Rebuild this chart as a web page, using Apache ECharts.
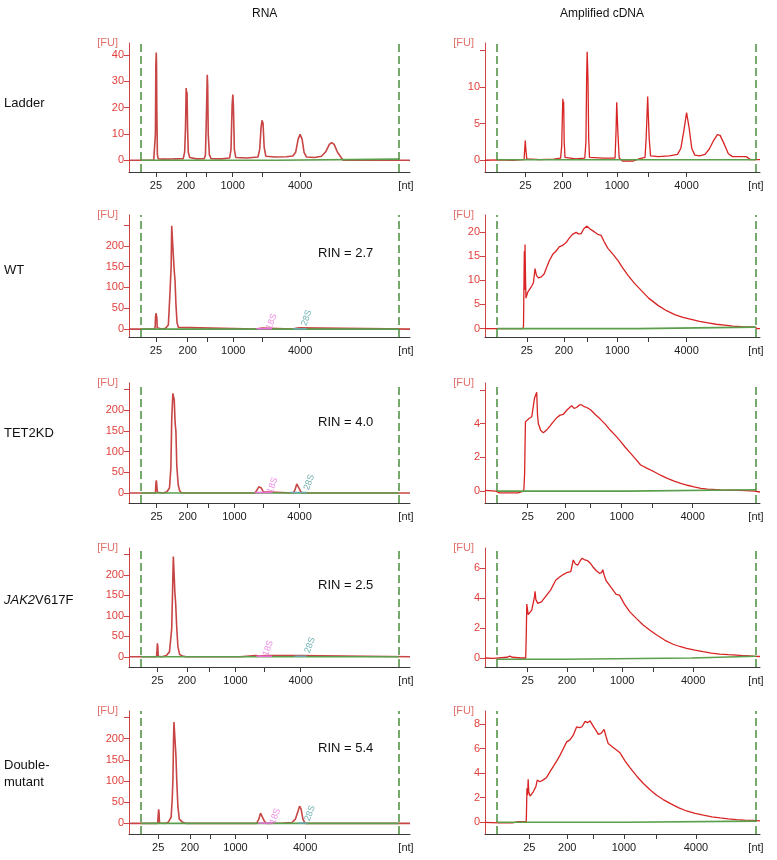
<!DOCTYPE html>
<html>
<head>
<meta charset="utf-8">
<script src="https://cdn.jsdelivr.net/npm/echarts@6/dist/echarts.min.js"></script>
<style>
  html, body { margin: 0; padding: 0; background: #fff; }
  #chart { width: 777px; height: 860px; }
</style>
</head>
<body>
<div id="chart"></div>
<script>
// x is migration position (0-100 across each panel), y is fluorescence [FU]
const sampleNames = ["Ladder", "WT", "TET2KD", "JAK2V617F", "Double-mutant"];
const rinValues = [null, "2.7", "4.0", "2.5", "5.4"];
const xTickLabels = ["25", "200", "", "1000", "", "4000"];

// ---- RNA traces ----
const ladderRna = [
  [0, 0], [8.8, 0], [9.2, 0.3], [9.4, 10], [9.55, 36], [9.7, 41], [9.8, 36], [9.9, 19.5], [10.1, 2], [10.4, 0.5],
  [12, 0.4], [16, 0.5], [19.3, 0.6], [19.8, 3], [20.1, 12], [20.35, 27.5], [20.5, 25], [20.65, 26], [20.85, 12], [21.1, 3], [21.6, 1],
  [24, 0.5], [26.8, 0.6], [27.2, 2], [27.5, 15], [27.85, 32.5], [28.0, 28.5], [28.2, 10], [28.6, 2], [29.2, 0.6],
  [33, 0.5], [35.8, 0.8], [36.3, 4], [36.7, 21], [36.95, 25], [37.15, 21], [37.5, 4], [38.0, 1],
  [42, 0.8], [45.9, 1.2], [46.5, 4], [47.0, 12.5], [47.35, 15.2], [47.7, 14], [48.1, 5], [48.7, 1.5],
  [52, 1.2], [56, 1.3], [58.3, 1.6], [59.3, 3], [60.2, 8], [60.9, 9.8], [61.6, 8], [62.3, 3], [63.2, 1.2],
  [66, 1], [68.5, 1.5], [70, 3.2], [71.3, 6], [72.1, 6.7], [73.0, 6], [74.2, 3], [75.5, 1], [76.2, 0], [100, 0]
];
const wtRna = [
  [0, 0], [9.1, 0], [9.3, 5], [9.45, 30], [9.6, 38], [9.75, 36], [9.9, 28], [10.05, 3], [10.3, 0],
  [11.6, 0], [13, 2], [14, 10], [14.59, 88], [15.0, 150], [15.2, 248], [15.45, 246], [15.77, 178], [16.1, 140],
  [16.37, 118], [16.7, 60], [17.1, 15], [17.6, 4], [18.1, 0],
  [45, 0], [45.6, 2.5], [47.5, 2.5], [48, 0], [58, 0], [58.5, 3], [60.5, 3], [61, 0], [100, 0]
];
const tet2Rna = [
  [0, 0], [9.4, 0], [9.6, 25], [9.75, 30.7], [9.95, 28], [10.1, 2], [10.3, 0],
  [12.2, 0], [13.5, 3], [14.4, 12], [14.9, 60], [15.2, 176], [15.45, 215], [15.6, 240], [16.1, 224], [16.4, 170],
  [16.7, 148], [17.0, 67], [17.5, 20], [18.0, 6], [18.7, 0],
  [44.8, 0], [45.6, 8], [46.2, 15], [46.6, 16], [47.1, 12], [47.8, 3], [48.4, 0],
  [58.5, 0], [59.2, 10], [59.7, 22], [60.0, 24], [60.4, 20], [61.0, 5], [61.5, 0], [100, 0]
];
const jakRna = [
  [0, 0], [9.8, 0], [10.0, 20], [10.1, 33], [10.25, 25], [10.4, 1], [10.6, 0],
  [11.8, 0], [13.3, 3], [14.4, 12], [15.2, 69], [15.5, 160], [15.77, 245], [16.1, 196], [16.3, 160], [16.6, 131],
  [17.0, 70], [17.4, 25], [18.0, 6], [19, 2], [20.3, 0],
  [39.5, 0], [39.7, 3], [45, 3], [46.5, 2], [48.5, 3], [60.6, 3], [60.9, 0], [100, 0]
];
const dblRna = [
  [0, 0], [10.2, 0], [10.4, 20], [10.55, 33], [10.7, 25], [10.85, 1], [11.0, 0],
  [12.8, 0], [14, 3], [15, 15], [15.4, 60], [15.65, 108], [15.85, 200], [16.0, 239], [16.4, 235], [16.7, 160],
  [17.0, 100], [17.4, 40], [17.9, 10], [19, 3], [20.3, 0],
  [37.0, 0], [37.4, 3], [37.8, 0], [43.8, 0], [44.2, 3], [44.6, 0],
  [45.4, 0], [46.2, 10], [46.8, 24], [47.1, 27], [47.5, 22], [48.2, 5], [48.9, 0],
  [55, 1], [58, 2], [59.2, 10], [60.2, 30], [60.7, 40.7], [61.2, 35], [61.9, 10], [62.7, 0], [100, 0]
];

// ---- amplified cDNA traces ----
const ladderCdna = [
  [0, 0], [5, 0.05], [10, 0], [14.2, 0.1], [14.45, 1.5], [14.65, 2.7], [14.85, 1.5], [15.2, 0.2],
  [20, 0.1], [25, 0.15], [27.5, 0.3], [27.9, 2], [28.1, 5.5], [28.3, 8.4], [28.45, 7.5], [28.6, 8], [28.8, 2.5], [29.1, 0.4],
  [33, 0.2], [36.3, 0.3], [36.7, 2.5], [36.95, 11], [37.15, 14.8], [37.3, 13], [37.45, 11], [37.7, 3], [38.0, 0.4],
  [43, 0.3], [47.3, 0.3], [47.65, 4], [47.9, 7.9], [48.15, 7.8], [48.35, 3.5], [48.8, 0.3],
  [50, -0.1], [54, -0.1], [56, 0.2], [58.2, 0.4], [58.6, 3], [58.9, 6], [59.15, 8.7], [59.4, 8.5], [59.7, 3], [60.2, 0.6],
  [63, 0.5], [67, 0.6], [70, 0.8], [71.2, 1.6], [72.3, 4], [73.3, 6.5], [74.2, 4.5], [75.2, 1.6], [76.3, 0.7], [78, 0.6],
  [80, 0.8], [81.5, 1.5], [83, 2.6], [84.5, 3.5], [85.5, 3.4], [87, 2.2], [88.5, 0.9], [90, 0.5], [95, 0.5], [96.5, 0.1], [100, 0.1]
];
const wtCdna = [
  [0, 0], [13.8, 0], [14.0, 0.5], [14.3, 16], [14.45, 8], [14.55, 17.4], [14.75, 10], [14.9, 6.3], [15.5, 7.5],
  [16.2, 8.1], [17.0, 8.8], [17.6, 9.5], [18.2, 12.4], [18.7, 11], [19.4, 10.5], [20.5, 10.7], [21.5, 11.3],
  [22.5, 12.8], [23.5, 14.2], [24.2, 14.6], [24.8, 15.5], [25.8, 16], [27, 16.9], [28.2, 17.2], [29.5, 17.8], [30.5, 18.6],
  [31.8, 19.5], [33.1, 19.9], [34.0, 19.6], [34.9, 19.6], [36.0, 20.7], [37.1, 21.2], [38.2, 20.6], [39.8, 20.0],
  [41, 19.5], [42.2, 19.3], [43.3, 18], [44.7, 16.6], [46.5, 15.4], [48.3, 14.1], [50, 12.6], [52, 11],
  [54.3, 9.4], [56.8, 7.9], [59.5, 6.3], [62.9, 4.8], [66, 3.7], [69, 2.9], [72, 2.3], [75, 1.9], [78, 1.5],
  [81.1, 1.2], [84, 0.9], [87.2, 0.7], [90, 0.5], [93.3, 0.4], [96, 0.35], [98.1, 0.3], [99, 0], [100, 0]
];
const tet2Cdna = [
  [0, 0.05], [4, 0], [5.2, -0.1], [12, -0.1], [14.1, 0], [14.4, 1], [14.7, 4.1], [15.3, 4.2], [16, 4.3], [17, 4.4],
  [17.6, 4.5], [18.0, 5.5], [18.5, 5.5], [18.8, 5.85], [19.1, 4.5], [19.4, 4.0], [20.2, 3.6], [21.2, 3.45],
  [22.3, 3.6], [23.6, 3.85], [24.8, 4.1], [26.1, 4.35], [27.3, 4.5], [28.5, 4.55], [29.8, 4.8], [31.5, 5.05],
  [32.4, 4.9], [33.3, 4.95], [34.3, 5.1], [35.2, 5.1], [36.1, 5.0], [37, 4.95], [38.5, 4.8], [40, 4.55],
  [42, 4.25], [43.8, 3.95], [45.6, 3.6], [47.4, 3.3], [49.3, 2.95], [51, 2.6], [52.9, 2.25], [54.8, 1.9],
  [56.6, 1.55], [59, 1.35], [61.5, 1.15], [64, 0.93], [66.3, 0.76], [68.8, 0.6], [71.2, 0.46], [73.6, 0.35],
  [76, 0.25], [78.5, 0.17], [80.9, 0.12], [85.8, 0.07], [91.9, 0.05], [95, 0.03], [98, 0], [100, -0.05]
];
const jakCdna = [
  [0, 0], [3, -0.02], [8, 0.05], [9, 0.12], [10, 0.05], [13, 0], [14.8, 0], [15.0, 1.5], [15.2, 3.6], [15.4, 3.55],
  [15.7, 2.9], [16.1, 2.8], [17, 3.2], [17.6, 3.3], [18.0, 4.1], [18.2, 4.45], [18.5, 3.9], [19.2, 3.65],
  [20.5, 3.75], [22, 4.1], [23.9, 4.55], [25.7, 5.2], [27, 5.4], [28.2, 5.55], [29.7, 5.7], [31.2, 5.77],
  [32.1, 6.55], [32.8, 6.3], [33.7, 6.2], [34.5, 6.45], [35.3, 6.67], [36.3, 6.55], [37.3, 6.5], [38.2, 6.35],
  [39.2, 6.1], [40.4, 5.85], [41.6, 5.66], [42.4, 5.7], [42.8, 5.9], [43.4, 5.5], [44.1, 5.15], [45.9, 4.7],
  [47.7, 4.25], [48.9, 4.2], [50.7, 3.6], [52.6, 3.1], [55, 2.65], [57.5, 2.2], [60, 1.85], [62.3, 1.55],
  [65.3, 1.2], [68.4, 0.92], [70.8, 0.77], [73.3, 0.65], [76.3, 0.52], [79.3, 0.42], [82.3, 0.33], [85.4, 0.26],
  [88.5, 0.22], [91.5, 0.19], [94.5, 0.15], [97.6, 0.12], [100, 0.1]
];
const dblCdna = [
  [0, 0], [5, -0.05], [10, -0.05], [12, 0.05], [15.0, 0.05], [15.1, 1], [15.25, 2.76], [15.5, 2.2], [15.7, 3.5],
  [15.9, 2.5], [16.4, 2.13], [17.6, 2.5], [18.5, 2.9], [19.0, 3.43], [20, 3.3], [21.2, 3.45], [22.4, 3.65],
  [23.6, 4.1], [24.9, 4.57], [26.1, 5.0], [27.3, 5.46], [28.5, 6.0], [29.7, 6.54], [30.9, 6.7], [32.1, 7.08],
  [33.3, 7.75], [34.3, 7.7], [35.2, 7.75], [36.4, 8.2], [37.3, 8.1], [38.2, 8.25], [39.4, 7.8], [40.3, 7.5],
  [41.2, 7.15], [42.3, 7.25], [43.3, 7.55], [44.0, 7.0], [44.8, 6.4], [46.5, 6.1], [49.1, 5.65], [50.9, 5.0],
  [52.7, 4.45], [55.2, 3.75], [57.6, 3.16], [60, 2.65], [62.4, 2.2], [64.8, 1.85], [67.3, 1.54], [70.3, 1.2],
  [73.3, 0.92], [76.4, 0.72], [79.4, 0.58], [82.5, 0.45], [85.5, 0.36], [88.5, 0.28], [91.5, 0.22],
  [94.5, 0.18], [97.6, 0.15], [100, 0.12]
];

// green baselines (x, FU)
const rnaBaselines = [
  [[4.3, 0], [52, 0], [52, 0.4], [96.1, 0.4]],
  [[4.3, 0], [96.1, 0]],
  [[4.3, 0], [96.1, 0]],
  [[4.3, 0], [96.1, 0]],
  [[4.3, 0], [96.1, 0]]
];
const cdnaBaselines = [
  [[4.4, 0.08], [98.5, 0.08]],
  [[4.4, 0], [55.7, 0], [55.7, 0.3], [98.5, 0.3]],
  [[4.4, 0], [51.5, 0], [51.5, 0.08], [98.5, 0.08]],
  [[4.4, -0.08], [28.5, -0.08], [28.5, 0], [75.2, 0], [75.2, 0.12], [98.5, 0.12]],
  [[4.4, 0], [51.5, 0], [51.5, 0.1], [98.5, 0.1]]
];
const rnaMarkers = [4.3, 96.1];
const cdnaMarkers = [4.4, 98.5];

// x tick positions per panel (25, 200, 500, 1000, 2000, 4000 nt)
const rnaXTicks = [
  [9.6, 20.3, 27.6, 36.9, 47.3, 60.9],
  [9.6, 20.9, 27.8, 37.1, 47.5, 60.9],
  [9.8, 20.9, 28.3, 37.5, 47.8, 60.7],
  [10.1, 20.6, 28.7, 37.9, 48.2, 61.1],
  [10.4, 21.7, 28.9, 37.9, 49.3, 62.7]
];
const cdnaXTicks = [
  [14.7, 28.2, 37.2, 48, 59.2, 73.3],
  [15.2, 28.7, 37.2, 48.1, 59.2, 73.3],
  [15.5, 29.3, 38.4, 49.7, 60.8, 75.5],
  [15.5, 29.8, 39.2, 49.9, 61.2, 75.7],
  [16.1, 29.9, 39.2, 50.5, 62.2, 76.7]
];

// y ticks / labels / ranges
const rnaYTicks = [[0, 10, 20, 30, 40], [0, 50, 100, 150, 200, 250], [0, 50, 100, 150, 200, 250], [0, 50, 100, 150, 200, 250], [0, 50, 100, 150, 200, 250]];
const rnaYLabels = [[0, 10, 20, 30, 40], [0, 50, 100, 150, 200], [0, 50, 100, 150, 200], [0, 50, 100, 150, 200], [0, 50, 100, 150, 200]];
const rnaYMin = [-4.5, -19, -24, -25, -25];
const rnaYMax = [44.6, 274, 265, 266, 265];
const cdnaYTicks = [[0, 5, 10, 15], [0, 5, 10, 15, 20], [0, 2, 4, 6], [0, 2, 4, 6], [0, 2, 4, 6, 8]];
const cdnaYLabels = [[0, 5, 10], [0, 5, 10, 15, 20], [0, 2, 4], [0, 2, 4, 6], [0, 2, 4, 6, 8]];
const cdnaYMin = [-1.6, -1.74, -0.7, -0.6, -0.95];
const cdnaYMax = [16, 23.5, 6.4, 7.35, 9.05];

// 18S / 28S fragment regions and label anchors (samples only)
const frag18sBands = [null, [45.4, 50.8], [44.8, 50.8], [45.4, 50.8], [46, 51.3]];
const frag28sBands = [null, [58.5, 63.2], [57.4, 63.3], [58.9, 63.2], [60.1, 63.6]];
const frag18sLabels = [null, [50.8, 18], [51.1, 18.6], [49.5, 21], [52, 17]];
const frag28sLabels = [null, [63.2, 27], [64.1, 26], [64.4, 28.6], [64.4, 24]];

const rnaTraces = [ladderRna, wtRna, tet2Rna, jakRna, dblRna];
const cdnaTraces = [ladderCdna, wtCdna, tet2Cdna, jakCdna, dblCdna];

// layout
const rowTop = [43, 215, 383, 548, 711];
const rowBottom = [172, 337, 503, 667, 834];
const colLeft = [129, 485];
const colWidth = [281, 275];
const FONT = "Liberation Sans, Arial, sans-serif";

const chart = echarts.init(document.getElementById("chart"));
const grids = [], xAxes = [], yAxes = [], series = [];

function addPanel(row, col) {
  const g = grids.length;
  const isRna = col === 0;
  const xt = isRna ? rnaXTicks[row] : cdnaXTicks[row];
  grids.push({
    left: colLeft[col], width: colWidth[col],
    top: rowTop[row], height: rowBottom[row] - rowTop[row]
  });
  xAxes.push({
    type: "value", gridIndex: g, min: 0, max: 100,
    axisLine: { onZero: false, lineStyle: { color: "#3a3a3a", width: 1 } },
    axisTick: { customValues: xt, length: 5, lineStyle: { color: "#3a3a3a" } },
    axisLabel: {
      customValues: xt.filter((t, i) => xTickLabels[i] !== ""),
      formatter: function (v) {
        const i = xt.findIndex((t) => Math.abs(t - v) < 1e-6);
        return i >= 0 ? xTickLabels[i] : "";
      },
      color: "#222", fontSize: 11, fontFamily: FONT, margin: 8
    },
    splitLine: { show: false },
    name: "[nt]", nameLocation: "end", nameGap: -4,
    nameTextStyle: { color: "#222", fontSize: 11, fontFamily: FONT, align: "center", verticalAlign: "top", padding: [8, 0, 0, 0] }
  });
  yAxes.push({
    type: "value", gridIndex: g,
    min: isRna ? rnaYMin[row] : cdnaYMin[row],
    max: isRna ? rnaYMax[row] : cdnaYMax[row],
    axisLine: { show: true, lineStyle: { color: "#cf4545", width: 1 } },
    axisTick: { show: true, customValues: isRna ? rnaYTicks[row] : cdnaYTicks[row], length: 5, lineStyle: { color: "#cf4545" } },
    axisLabel: { customValues: isRna ? rnaYLabels[row] : cdnaYLabels[row], color: "#e2403c", fontSize: 11, fontFamily: FONT, margin: 5 },
    splitLine: { show: false },
    name: "[FU]", nameLocation: "end", nameGap: 0,
    nameTextStyle: { color: "#e0706a", fontSize: 11, fontFamily: FONT, align: "right", verticalAlign: "middle", padding: [0, 11, 0, 0] }
  });

  series.push({
    type: "line", xAxisIndex: g, yAxisIndex: g, silent: true, z: 2,
    data: isRna ? rnaTraces[row] : cdnaTraces[row],
    symbol: "none", lineStyle: { color: isRna ? "#c84545" : "#d92424", width: isRna ? 1.6 : 1.3 }
  });
  series.push({
    type: "line", xAxisIndex: g, yAxisIndex: g, silent: true, z: 3,
    data: isRna ? rnaBaselines[row] : cdnaBaselines[row],
    symbol: "none", lineStyle: { color: "#5a9f4b", width: 1.6 },
    markLine: {
      silent: true, symbol: "none", label: { show: false },
      lineStyle: { color: "#4a8f3c", type: [8, 4], width: 1.5 },
      data: (isRna ? rnaMarkers : cdnaMarkers).map((m) => ({ xAxis: m }))
    }
  });

  if (isRna && frag18sBands[row]) {
    const b18 = frag18sBands[row], b28 = frag28sBands[row];
    series.push({
      type: "line", xAxisIndex: g, yAxisIndex: g, silent: true, z: 4, symbol: "none",
      data: [[b18[0], 1], [b18[1], 1]], lineStyle: { color: "#ea6fdc", width: 1.5 }
    });
    series.push({
      type: "line", xAxisIndex: g, yAxisIndex: g, silent: true, z: 4, symbol: "none",
      data: [[b28[0], 1], [b28[1], 1]], lineStyle: { color: "#6aa9b0", width: 1.5 }
    });
    series.push({
      type: "scatter", xAxisIndex: g, yAxisIndex: g, silent: true, z: 5, symbolSize: 1,
      itemStyle: { color: "rgba(0,0,0,0)" },
      data: [
        { value: frag18sLabels[row], label: { formatter: "18S", color: "#e86de0" } },
        { value: frag28sLabels[row], label: { formatter: "28S", color: "#4a9c9c" } }
      ],
      label: { show: true, position: "inside", rotate: 70, fontSize: 9, fontFamily: FONT }
    });
  }
}

for (let r = 0; r < 5; r++) {
  addPanel(r, 0);
  addPanel(r, 1);
}

const rowLabelY = [103, 270, 433, 600, 774];
const rinY = [null, 253, 422, 585, 748];
const graphics = [
  { type: "text", left: 252, top: 8, style: { text: "RNA", font: "12px " + FONT, fill: "#111" } },
  { type: "text", left: 560, top: 8, style: { text: "Amplified cDNA", font: "12px " + FONT, fill: "#111" } }
];
sampleNames.forEach((name, r) => {
  let style;
  if (name === "JAK2V617F") {
    style = {
      text: "{i|JAK2}{n|V617F}",
      rich: {
        i: { fontStyle: "italic", fontSize: 13, fontFamily: FONT, fill: "#111" },
        n: { fontSize: 13, fontFamily: FONT, fill: "#111" }
      },
      font: "13px " + FONT, fill: "#111", verticalAlign: "middle"
    };
  } else if (name === "Double-mutant") {
    style = { text: "Double-\nmutant", font: "13px " + FONT, fill: "#111", lineHeight: 17, verticalAlign: "middle" };
  } else {
    style = { text: name, font: "13px " + FONT, fill: "#111", verticalAlign: "middle" };
  }
  graphics.push({ type: "text", x: 4, y: rowLabelY[r], style: style });
  if (rinValues[r]) {
    graphics.push({
      type: "text", x: 318, y: rinY[r],
      style: { text: "RIN = " + rinValues[r], font: "13px " + FONT, fill: "#111", verticalAlign: "middle" }
    });
  }
});

chart.setOption({
  animation: false,
  backgroundColor: "#fff",
  grid: grids,
  xAxis: xAxes,
  yAxis: yAxes,
  series: series,
  graphic: graphics
});
</script>
</body>
</html>
